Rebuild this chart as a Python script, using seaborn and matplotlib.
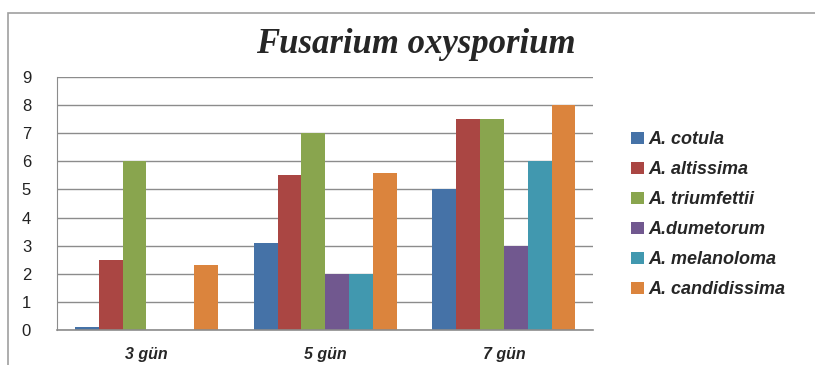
import numpy as np
import pandas as pd
import matplotlib
matplotlib.use("Agg")
import matplotlib.pyplot as plt
from matplotlib.patches import Rectangle
import seaborn as sns

# ========== DATA ==========
DAYS = ["3 gün", "5 gün", "7 gün"]
SPECIES = ["A. cotula", "A. altissima", "A. triumfettii",
           "A.dumetorum", "A. melanoloma", "A. candidissima"]
COTULA = [0.1, 3.1, 5.0]
ALTISSIMA = [2.5, 5.5, 7.5]
TRIUMFETTII = [6.0, 7.0, 7.5]
DUMETORUM = [0.0, 2.0, 3.0]
MELANOLOMA = [0.0, 2.0, 6.0]
CANDIDISSIMA = [2.3, 5.6, 8.0]
COLORS = ["#4572A7", "#AA4643", "#89A54E", "#71588F", "#4198AF", "#DB843D"]

series = [COTULA, ALTISSIMA, TRIUMFETTII, DUMETORUM, MELANOLOMA, CANDIDISSIMA]
rows = []
for name, vals in zip(SPECIES, series):
    for day, v in zip(DAYS, vals):
        rows.append({"day": day, "species": name, "value": v})
df = pd.DataFrame(rows)

sns.set_style("white")
plt.rcParams["font.family"] = ["Liberation Sans", "DejaVu Sans"]

fig = plt.figure(figsize=(8.15, 3.65), dpi=100)
ax = fig.add_axes([0.070, 0.096, 0.658, 0.693])

sns.barplot(data=df, x="day", y="value", hue="species", hue_order=SPECIES,
            order=DAYS, palette=COLORS, width=0.8, saturation=1,
            edgecolor="none", ax=ax)

ax.set_ylim(0, 9)
ax.set_yticks(range(0, 10))
ax.yaxis.grid(True, color="#8c8c8c", linewidth=1.0)
ax.set_axisbelow(True)
ax.set_xlabel("")
ax.set_ylabel("")
for s in ["top", "right"]:
    ax.spines[s].set_visible(False)
ax.spines["left"].set_color("#8c8c8c")
ax.spines["bottom"].set_color("#8c8c8c")
ax.spines["bottom"].set_linewidth(1.2)
ax.tick_params(axis="y", length=0, pad=22, labelsize=12, colors="#222222")
for lab in ax.get_yticklabels():
    lab.set_horizontalalignment("center")
ax.tick_params(axis="x", length=0, pad=12)
for lab in ax.get_xticklabels():
    lab.set_fontweight("bold")
    lab.set_fontstyle("italic")
    lab.set_fontsize(11.5)

# title, placed in figure coordinates
fig.text(416 / 815, 1 - 53 / 365, "Fusarium oxysporium",
         family=["Liberation Serif", "DejaVu Serif"], style="italic",
         weight="bold", fontsize=25, ha="center", va="baseline")

leg = ax.legend(loc="center left", bbox_to_anchor=(1.04, 0.455), frameon=False,
                prop={"weight": "bold", "style": "italic", "size": 13},
                handlelength=0.7, handleheight=0.7, handletextpad=0.25,
                labelspacing=0.72)

# outer chart frame
fig.patches.append(Rectangle((8 / 815, -0.1), 1.2, 1.0 - 13 / 365 + 0.1,
                             transform=fig.transFigure, fill=False,
                             edgecolor="#a0a0a0", linewidth=1.2))

fig.savefig("out.png", dpi=100)
